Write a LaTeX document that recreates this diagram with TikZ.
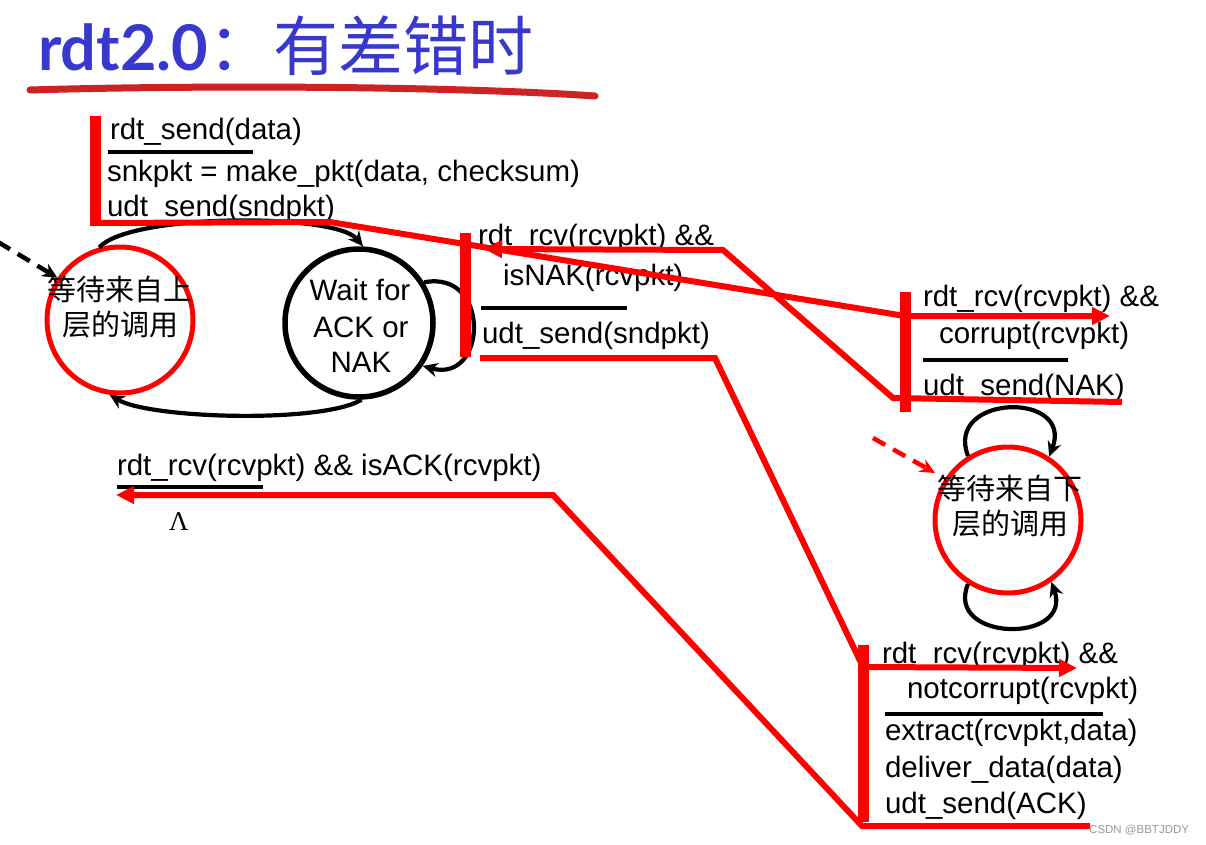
\documentclass[tikz,border=0pt]{standalone}
\usepackage{fontspec}
\setmainfont{Liberation Sans}
\newfontfamily\cjk{Noto Sans CJK SC}
\newfontfamily\titlelatin{Lato}
\newfontfamily\serifT{Liberation Serif}
\usetikzlibrary{arrows.meta}
\definecolor{titleblue}{RGB}{56,56,204}
\definecolor{brushred}{RGB}{205,35,35}
\definecolor{fsmred}{RGB}{255,0,0}
\tikzset{
  txt/.style={anchor=base west, inner sep=0pt, outer sep=0pt, font=\fontsize{29.5}{35}\selectfont},
  ctxt/.style={anchor=base, inner sep=0pt, outer sep=0pt, font=\fontsize{29.5}{35}\selectfont},
  cjktxt/.style={anchor=base, inner sep=0pt, outer sep=0pt, font=\cjk\fontsize{29}{35}\selectfont},
  redstate/.style={circle, draw=fsmred, line width=5pt, minimum size=146pt, inner sep=0pt},
  blackstate/.style={circle, draw=black, line width=5.5pt, minimum size=148pt, inner sep=0pt},
  redline/.style={draw=fsmred, line width=6pt},
  redarrow/.style={redline, -{Triangle[length=18pt,width=17pt]}},
  redbar/.style={draw=fsmred, line width=11pt},
  sepline/.style={draw=black, line width=4.5pt},
  blackarc/.style={draw=black, line width=4.2pt, -{Stealth[length=15pt,width=14pt]}},
  initdash/.style={line width=4.5pt, dash pattern=on 14pt off 9pt, -{Stealth[length=15pt,width=14pt]}},
}
\begin{document}
\begin{tikzpicture}[x=1pt,y=-1pt]
\useasboundingbox (0,0) rectangle (1206,845);
\fill[white] (0,0) rectangle (1206,845);

% title
\node[anchor=base west, inner sep=0pt, text=titleblue] (title) at (38,71)
  {\titlelatin\bfseries\fontsize{63}{63}\selectfont rdt2.0\cjk\mdseries\fontsize{65}{65}\selectfont ：有差错时};
\coordinate (ulA) at (30,90);
\coordinate (ulB) at (595,96);
\draw[brushred, line width=7pt, line cap=round] (ulA) .. controls (200,85) and (450,86) .. (ulB);

% states
\node[redstate] (sA) at (120,320) {};
\node[blackstate] (sB) at (359,323) {};
\node[redstate] (sC) at (1008,520) {};

\node[cjktxt] (sAt1) at (120,300) {等待来自上};
\node[cjktxt] (sAt2) at (120,335) {层的调用};
\node[ctxt] (sBt1) at (360,300) {Wait for};
\node[ctxt] (sBt2) at (361,337) {ACK or};
\node[ctxt] (sBt3) at (361,372) {NAK};
\node[cjktxt] (sCt1) at (1010,499) {等待来自下};
\node[cjktxt] (sCt2) at (1010,534) {层的调用};

% black transitions
\draw[blackarc] (sA.106) .. controls +(30,-34) and +(-28,-34) .. (sB.87);
\draw[blackarc] (sB.-88) .. controls +(-40,24) and +(40,24) .. (sA.-98);
\draw[blackarc] (sB.32) .. controls +(67,-13) and +(65,18) .. (sB.-34);
\draw[blackarc] (sC.122) .. controls +(-24,-62) and +(25,-66) .. (sC.57);
\draw[blackarc] (sC.-122) .. controls +(-24,58) and +(22,62) .. (sC.-55);

% initial arrows
\coordinate (initA) at (-2,242);
\draw[initdash, black] (initA) -- (sA.146);
\coordinate (initC) at (873,438);
\coordinate (initCend) at (935,473);
\draw[initdash, fsmred] (initC) -- (initCend);

% sender: rdt_send
\coordinate (b1top) at (95,116);
\coordinate (b1bot) at (95,226);
\draw[redbar] (b1top) -- (b1bot);
\node[txt] (t1) at (110,140) {rdt\_send(data)};
\coordinate (s1a) at (108,152); \coordinate (s1b) at (253,152);
\draw[sepline] (s1a) -- (s1b);
\node[txt] (t2) at (107,181.5) {snkpkt = make\_pkt(data, checksum)};
\node[txt] (t3) at (107,216.5) {udt\_send(sndpkt)};

% sender: isNAK
\coordinate (b2top) at (465,233);
\coordinate (b2bot) at (465,357);
\draw[redbar] (b2top) -- (b2bot);
\node[txt] (t4) at (478,245) {rdt\_rcv(rcvpkt) \&\&};
\node[txt] (t5) at (503,285) {isNAK(rcvpkt)};
\coordinate (s2a) at (481,308); \coordinate (s2b) at (627,308);
\draw[sepline] (s2a) -- (s2b);
\node[txt] (t6) at (482,343) {udt\_send(sndpkt)};

% receiver: corrupt
\coordinate (b3top) at (905,292);
\coordinate (b3bot) at (905,412);
\draw[redbar] (b3top) -- (b3bot);
\node[txt] (t7) at (923,306.5) {rdt\_rcv(rcvpkt) \&\&};
\node[txt] (t8) at (939,343) {corrupt(rcvpkt)};
\coordinate (s3a) at (923,360); \coordinate (s3b) at (1068,360);
\draw[sepline] (s3a) -- (s3b);
\node[txt] (t9) at (923,395) {udt\_send(NAK)};

% sender: isACK
\node[txt] (t10) at (117,475) {rdt\_rcv(rcvpkt) \&\& isACK(rcvpkt)};
\coordinate (s4a) at (117,487); \coordinate (s4b) at (263,487);
\draw[sepline] (s4a) -- (s4b);
\node[anchor=base west, inner sep=0pt, font=\serifT\fontsize{27}{27}\selectfont] (lam) at (169,530) {Λ};

% receiver: notcorrupt
\coordinate (b4top) at (863,645);
\coordinate (b4bot) at (863,822);
\draw[redbar] (b4top) -- (b4bot);
\node[txt] (t11) at (882,663) {rdt\_rcv(rcvpkt) \&\&};
\node[txt] (t12) at (907,698) {notcorrupt(rcvpkt)};
\coordinate (s5a) at (885,714); \coordinate (s5b) at (1103,714);
\draw[sepline] (s5a) -- (s5b);
\node[txt] (t13) at (885,740) {extract(rcvpkt,data)};
\node[txt] (t14) at (885,777) {deliver\_data(data)};
\node[txt] (t15) at (885,813) {udt\_send(ACK)};

% red flow lines
\coordinate (pA0) at (95,223); \coordinate (pA1) at (330,222);
\coordinate (pA2) at (905,316); \coordinate (pA3) at (1110,316);
\draw[redarrow] (pA0) -- (pA1) -- (pA2) -- (pA3);

\coordinate (pB0) at (1122,402); \coordinate (pB1) at (893,398);
\coordinate (pB2) at (723,250); \coordinate (pB3) at (484,249);
\draw[redarrow] (pB0) -- (pB1) -- (pB2) -- (pB3);

\coordinate (pC0) at (480,358); \coordinate (pC1) at (715,358);
\coordinate (pC2) at (863,667); \coordinate (pC3) at (1077,668);
\draw[redarrow] (pC0) -- (pC1) -- (pC2) -- (pC3);

\coordinate (pD0) at (1090,826); \coordinate (pD1) at (862,826);
\coordinate (pD2) at (553,495); \coordinate (pD3) at (116,495);
\draw[redarrow] (pD0) -- (pD1) -- (pD2) -- (pD3);

% watermark
\node[anchor=base west, inner sep=0pt, text=black!40, font=\fontsize{11.5}{12}\selectfont] (wm) at (1089,833) {CSDN @BBTJDDY};
\end{tikzpicture}
\end{document}
